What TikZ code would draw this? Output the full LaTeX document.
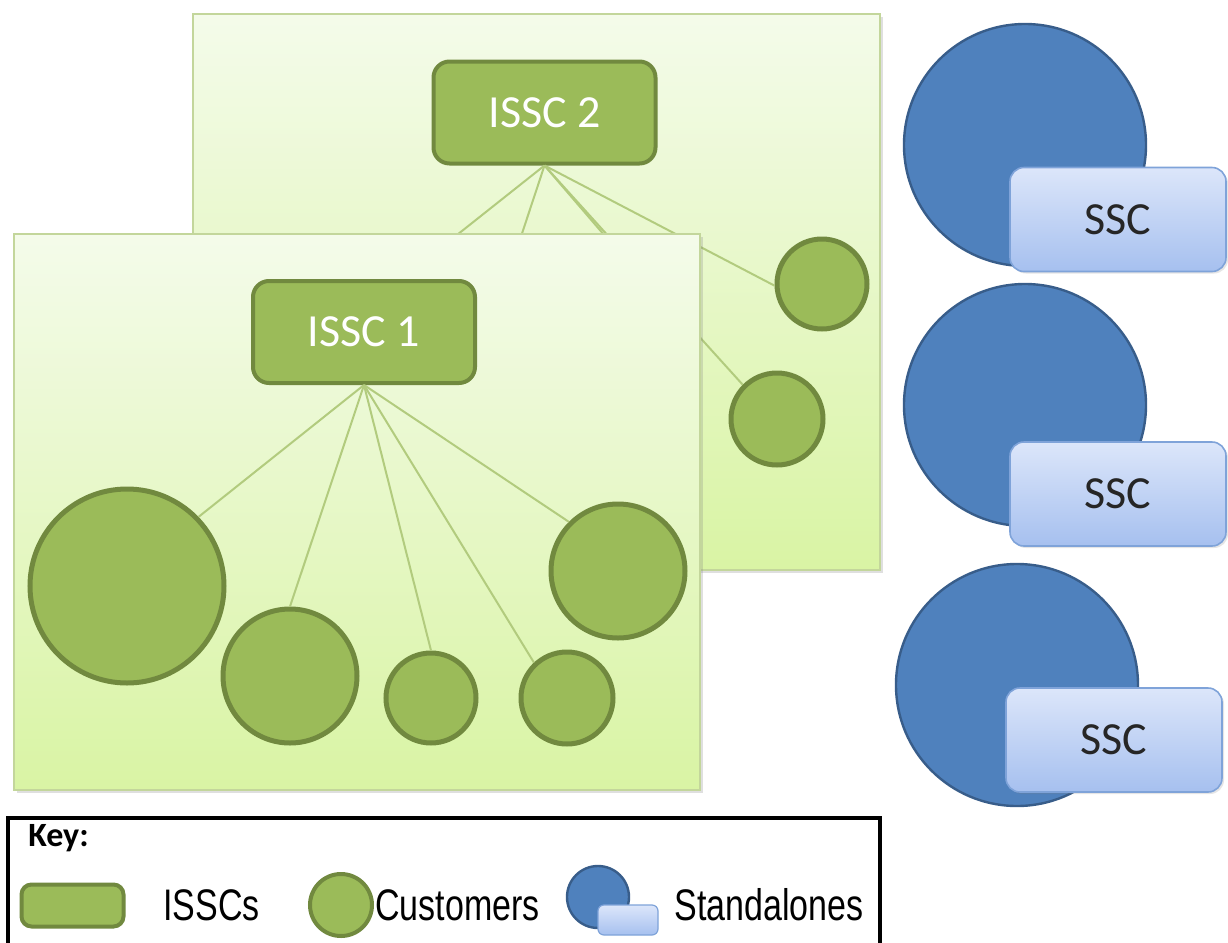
\documentclass[tikz,border=0pt]{standalone}
\usepackage{fontspec}
\setmainfont{Carlito}
\newfontfamily\keyfont{Liberation Sans}
\usetikzlibrary{shadows}

\definecolor{leaf}{HTML}{9BBB59}
\definecolor{leafdark}{HTML}{71893F}
\definecolor{panelline}{HTML}{C3D69B}
\definecolor{paneltop}{HTML}{F4FBEA}
\definecolor{panelbot}{HTML}{D9F4A4}
\definecolor{twig}{HTML}{B2CB7E}
\definecolor{sea}{HTML}{4F81BD}
\definecolor{seadark}{HTML}{385D8A}
\definecolor{skytop}{HTML}{DCE6FA}
\definecolor{skybot}{HTML}{A6C0EF}
\definecolor{skyline}{HTML}{7FA3D9}

\newcommand{\keylabel}[1]{\scalebox{1}[1.3]{#1}}

\tikzset{
  panel/.style={draw=panelline,line width=1pt,top color=paneltop,bottom color=panelbot,
    drop shadow={shadow xshift=1.5pt,shadow yshift=-1.5pt,opacity=.25}},
  hub/.style={draw=leafdark,line width=2pt,fill=leaf,rounded corners=8pt,
    minimum width=111pt,minimum height=51pt,text=white,font=\fontsize{23}{26}\selectfont},
  client/.style={circle,draw=leafdark,line width=2.5pt,fill=leaf,inner sep=0pt,minimum size=#1},
  twigline/.style={draw=twig,line width=1pt},
  unit/.style={circle,draw=seadark,line width=1.2pt,fill=sea,inner sep=0pt,minimum size=#1},
  sscbox/.style={draw=skyline,line width=.8pt,top color=skytop,bottom color=skybot,rounded corners=7pt,
    minimum width=108pt,minimum height=52pt,text=black!85,font=\fontsize{23}{26}\selectfont,
    drop shadow={shadow xshift=1pt,shadow yshift=-1pt,opacity=.2}},
  keytext/.style={anchor=west,inner sep=0pt,font=\keyfont\fontsize{17}{20}\selectfont}
}

\begin{document}
\begin{tikzpicture}[x=0.5pt,y=-0.5pt]
  \useasboundingbox[fill=white] (0,0) rectangle (1228,943);
  % back group
  \path[panel] (193,14) rectangle (880,570);
  \node[hub] (issc2) at (544.5,112.5) {ISSC 2};
  \coordinate (h1) at (375,300);
  \coordinate (h2) at (500,300);
  \coordinate (h3) at (660,300);
  \node[client=45pt] (b1) at (822,284) {};
  \node[client=46pt] (b2) at (777,419) {};
  \foreach \t in {h1,h2,h3,b1.182,b2.135}{
    \draw[twigline] (issc2.south) -- (\t);
  }
  % front group
  \path[panel] (14,234) rectangle (700,790);
  \node[hub] (issc1) at (364,332) {ISSC 1};
  \foreach \n/\x/\y/\r/\a in {f1/127/586/97/44, f2/290/676/67/90, f3/431/698/45/90,
      f4/567/698/46/133, f5/618/571/67/135}{
    \node[client=\r pt] (\n) at (\x,\y) {};
    \draw[twigline] (issc1.south) -- (\n.\a);
  }
  % standalones
  \foreach \n/\cx/\cy/\bx/\by in {s1/1025/145/1118/219.5, s2/1025/405/1118/494,
      s3/1017/685/1114/740}{
    \node[unit=121pt] (\n) at (\cx,\cy) {};
    \node[sscbox] (\n box) at (\bx,\by) {SSC};
  }
  % key
  \draw[line width=2pt] (8,818) rectangle (880,970);
  \node[anchor=west,inner sep=0pt,font=\bfseries\fontsize{17}{20}\selectfont] (keyhead) at (28,838) {Key:};
  \node[draw=leafdark,line width=2pt,fill=leaf,rounded corners=5pt,minimum width=51pt,
    minimum height=21pt] (keyhub) at (72.5,905.5) {};
  \node[keytext] (keyhubtxt) at (163,905) {\keylabel{ISSCs}};
  \node[client=31pt,line width=2pt] (keyclient) at (341,905) {};
  \node[keytext] (keyclienttxt) at (375,905) {\keylabel{Customers}};
  \node[unit=31pt] (keyunit) at (598,897) {};
  \node[draw=skyline,line width=.6pt,top color=skytop,bottom color=skybot,rounded corners=3pt,
    minimum width=30pt,minimum height=15pt] (keybox) at (628,920) {};
  \node[keytext] (keyunittxt) at (674,905) {\keylabel{Standalones}};
\end{tikzpicture}
\end{document}
